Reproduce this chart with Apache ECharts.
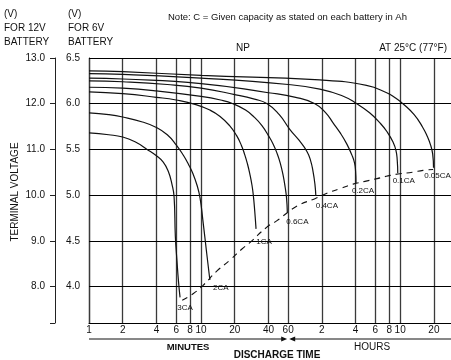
<!DOCTYPE html>
<html>
<head>
<meta charset="utf-8">
<script src="https://cdn.jsdelivr.net/npm/echarts@6/dist/echarts.min.js"></script>
<style>
  html, body { margin: 0; padding: 0; background: #fff; }
  #chart { width: 451px; height: 360px; }
</style>
</head>
<body>
<div id="chart"></div>
<script>
// Discharge time axis (minutes, log scale) and its printed labels
const timeTicks = [1, 2, 4, 6, 8, 10, 20, 40, 60, 120, 240, 360, 480, 600, 1200];
const timeTickLabels = ['1', '2', '4', '6', '8', '10', '20', '40', '60', '2', '4', '6', '8', '10', '20'];
// Terminal voltage ticks for a 6V and a 12V battery
const voltTicks6 = [4.0, 4.5, 5.0, 5.5, 6.0, 6.5];
const voltTicks12 = [8.0, 9.0, 10.0, 11.0, 12.0, 13.0];

// Discharge curves: time in minutes, voltage of a 6V battery
const rates = ['3CA', '2CA', '1CA', '0.6CA', '0.4CA', '0.2CA', '0.1CA', '0.05CA'];
const minutes3CA = [1, 1.5, 2, 2.6, 3.3, 4, 4.6, 5.1, 5.5, 5.75, 5.9, 6.1, 6.3, 6.5];
const volts3CA = [5.68, 5.66, 5.635, 5.58, 5.50, 5.43, 5.36, 5.26, 5.12, 4.98, 4.55, 4.28, 4.05, 3.88];
const minutes2CA = [1, 1.5, 2, 3, 4, 5, 6, 7, 7.7, 8.5, 9.2, 9.8, 10.4, 11.2, 12.0];
const volts2CA = [5.90, 5.88, 5.854, 5.80, 5.74, 5.66, 5.55, 5.43, 5.34, 5.23, 5.11, 4.97, 4.72, 4.38, 4.07];
const minutes1CA = [1, 2, 4, 6, 9, 12, 14.8, 18, 20.8, 23, 24.6, 26, 27.3, 28.5, 29.3, 30.2, 31];
const volts1CA = [6.13, 6.11, 6.07, 6.04, 5.99, 5.93, 5.86, 5.76, 5.65, 5.54, 5.44, 5.34, 5.23, 5.11, 5.0, 4.82, 4.63];
const minutes06CA = [1, 2, 4, 10, 15, 19.3, 25, 30, 35, 40, 44, 48, 51, 54, 56.5, 58, 59];
const volts06CA = [6.18, 6.17, 6.14, 6.08, 6.04, 6.0, 5.93, 5.85, 5.76, 5.65, 5.56, 5.45, 5.35, 5.22, 5.08, 4.97, 4.81];
const minutes04CA = [1, 2, 5, 10, 20, 30, 39, 50, 62, 75, 88, 95, 100, 104, 106];
const volts04CA = [6.25, 6.24, 6.21, 6.17, 6.1, 6.05, 6.0, 5.88, 5.72, 5.6, 5.48, 5.38, 5.26, 5.12, 4.99];
const minutes02CA = [1, 2, 10, 40, 70, 104, 130, 151, 175, 200, 222, 235, 240, 242];
const volts02CA = [6.28, 6.27, 6.22, 6.12, 6.07, 6.0, 5.9, 5.79, 5.68, 5.56, 5.44, 5.35, 5.26, 5.13];
const minutes01CA = [1, 2, 10, 60, 115, 180, 246, 320, 396, 460, 518, 550, 565, 571];
const volts01CA = [6.33, 6.32, 6.28, 6.21, 6.16, 6.09, 6.0, 5.9, 5.79, 5.69, 5.58, 5.49, 5.38, 5.24];
const minutes005CA = [1, 2, 10, 115, 300, 455, 550, 635, 800, 955, 1050, 1120, 1170, 1191];
const volts005CA = [6.36, 6.35, 6.31, 6.26, 6.2, 6.12, 6.06, 6.0, 5.88, 5.74, 5.64, 5.55, 5.45, 5.30];

// Final discharge voltage line
const cutoffMinutes = [6.8, 8.5, 10.4, 13.9, 18.2, 23.2, 27.3, 38.8, 47.7, 72, 104, 133, 174, 228, 291, 373, 467, 574, 781, 960, 1180];
const cutoffVolts = [3.85, 3.92, 4.01, 4.17, 4.29, 4.41, 4.48, 4.65, 4.72, 4.88, 4.96, 5.02, 5.07, 5.12, 5.15, 5.18, 5.21, 5.23, 5.25, 5.27, 5.28];

const curveMinutes = [minutes3CA, minutes2CA, minutes1CA, minutes06CA, minutes04CA, minutes02CA, minutes01CA, minutes005CA];
const curveVolts = [volts3CA, volts2CA, volts1CA, volts06CA, volts04CA, volts02CA, volts01CA, volts005CA];
// where each rate name sits relative to the end of its curve (px)
const rateLabelOffsets = [[5, 10], [11, 8], [8, 13], [10, 9], [11, 10], [7, 8], [6, 8], [4, 8]];

const FONT = '"Liberation Sans", Arial, Helvetica, sans-serif';
const zip = (xs, ys) => xs.map((x, i) => [x, ys[i]]);

const chart = echarts.init(document.getElementById('chart'), null, { renderer: 'canvas' });

const curveSeries = rates.map((name, i) => {
  const xs = curveMinutes[i], ys = curveVolts[i];
  return {
    name: name,
    type: 'line',
    data: zip(xs, ys),
    smooth: 0.5,
    showSymbol: false,
    symbol: 'none',
    z: 5,
    lineStyle: { color: '#111', width: 1.2 },
    markPoint: {
      symbol: 'circle',
      symbolSize: 0,
      silent: true,
      data: [{ coord: [xs[xs.length - 1], ys[ys.length - 1]], value: name }],
      label: {
        show: true,
        position: 'inside',
        offset: rateLabelOffsets[i],
        formatter: name,
        color: '#111',
        fontSize: 8,
        fontFamily: FONT
      }
    }
  };
});

const gridSeries = {
  name: 'cutoff',
  type: 'line',
  data: zip(cutoffMinutes, cutoffVolts),
  smooth: 0.5,
  showSymbol: false,
  symbol: 'none',
  z: 4,
  lineStyle: { color: '#111', width: 1.1, type: [6, 5] },
  markLine: {
    silent: true,
    symbol: 'none',
    animation: false,
    z: 1,
    data: [
      ...timeTicks.map((t, i) => ({
        xAxis: t,
        lineStyle: { color: '#3a3a3a', width: 1.3, type: 'solid' },
        label: {
          show: true,
          position: 'start',
          distance: 2,
          formatter: timeTickLabels[i],
          color: '#111',
          fontSize: 10,
          fontFamily: FONT
        }
      })),
      ...voltTicks6.map(v => ({
        yAxis: v,
        lineStyle: { color: '#000', width: 1.1, type: 'solid' },
        label: { show: false }
      }))
    ]
  }
};

chart.setOption({
  animation: false,
  backgroundColor: '#fff',
  grid: { left: 89, top: 58, right: 0, bottom: 37, containLabel: false },
  xAxis: {
    type: 'log',
    logBase: 10,
    min: 1,
    max: 1706,
    axisLine: { show: true, lineStyle: { color: '#000', width: 1.2 } },
    axisTick: { show: false },
    axisLabel: { show: false },
    splitLine: { show: false },
    minorSplitLine: { show: false }
  },
  yAxis: [
    {
      type: 'value',
      min: 3.6,
      max: 6.5,
      position: 'left',
      axisLine: { show: true, lineStyle: { color: '#000', width: 1.2 } },
      axisTick: { show: false },
      splitLine: { show: false },
      axisLabel: {
        customValues: voltTicks6,
        formatter: v => v.toFixed(1),
        margin: 9,
        color: '#111',
        fontSize: 10,
        fontFamily: FONT
      }
    },
    {
      type: 'value',
      min: 7.2,
      max: 13.0,
      position: 'left',
      offset: 34,
      axisLine: { show: true, lineStyle: { color: '#222', width: 1 } },
      axisTick: { show: true, customValues: [7.2, ...voltTicks12], length: 5, lineStyle: { color: '#222', width: 1 } },
      splitLine: { show: false },
      axisLabel: {
        customValues: voltTicks12,
        formatter: v => v.toFixed(1),
        margin: 10,
        color: '#111',
        fontSize: 10,
        fontFamily: FONT
      }
    }
  ],
  series: [gridSeries, ...curveSeries]
});

// Text headings and the MINUTES / HOURS span arrows
const x60 = chart.convertToPixel({ xAxisIndex: 0 }, 60);
const xLeft = chart.convertToPixel({ xAxisIndex: 0 }, 1);
const arrowY = 339;
const txt = (x, y, text, extra) => ({
  type: 'text', x: x, y: y, silent: true,
  style: Object.assign({ text: text, fill: '#111', fontSize: 10, fontFamily: FONT, textVerticalAlign: 'middle' }, extra || {})
});

chart.setOption({
  graphic: [
    txt(4, 14, '(V)'),
    txt(4, 28, 'FOR 12V'),
    txt(4, 42, 'BATTERY'),
    txt(68, 14, '(V)'),
    txt(68, 28, 'FOR 6V'),
    txt(68, 42, 'BATTERY'),
    txt(168, 17, 'Note: C = Given capacity as stated on each battery in Ah', { fontSize: 9.5 }),
    txt(243, 48, 'NP', { textAlign: 'center' }),
    txt(447, 48, 'AT 25°C (77°F)', { textAlign: 'right' }),
    {
      type: 'text', x: 15, y: 192, rotation: Math.PI / 2, silent: true,
      style: { text: 'TERMINAL VOLTAGE', fill: '#111', fontSize: 10, fontFamily: FONT, textAlign: 'center', textVerticalAlign: 'middle' }
    },
    txt(188, 347, 'MINUTES', { textAlign: 'center', fontWeight: 'bold', fontSize: 9.5 }),
    txt(372, 347, 'HOURS', { textAlign: 'center', fontSize: 10 }),
    txt(277, 355, 'DISCHARGE TIME', { textAlign: 'center', fontWeight: 'bold', fontSize: 10 }),
    { type: 'line', silent: true, shape: { x1: xLeft, y1: arrowY, x2: x60 - 3, y2: arrowY }, style: { stroke: '#111', lineWidth: 1 } },
    { type: 'polygon', silent: true, shape: { points: [[x60 - 1, arrowY], [x60 - 7, arrowY - 2.5], [x60 - 7, arrowY + 2.5]] }, style: { fill: '#111' } },
    { type: 'line', silent: true, shape: { x1: x60 + 3, y1: arrowY, x2: 451, y2: arrowY }, style: { stroke: '#111', lineWidth: 1 } },
    { type: 'polygon', silent: true, shape: { points: [[x60 + 1, arrowY], [x60 + 7, arrowY - 2.5], [x60 + 7, arrowY + 2.5]] }, style: { fill: '#111' } }
  ]
});
</script>
</body>
</html>
